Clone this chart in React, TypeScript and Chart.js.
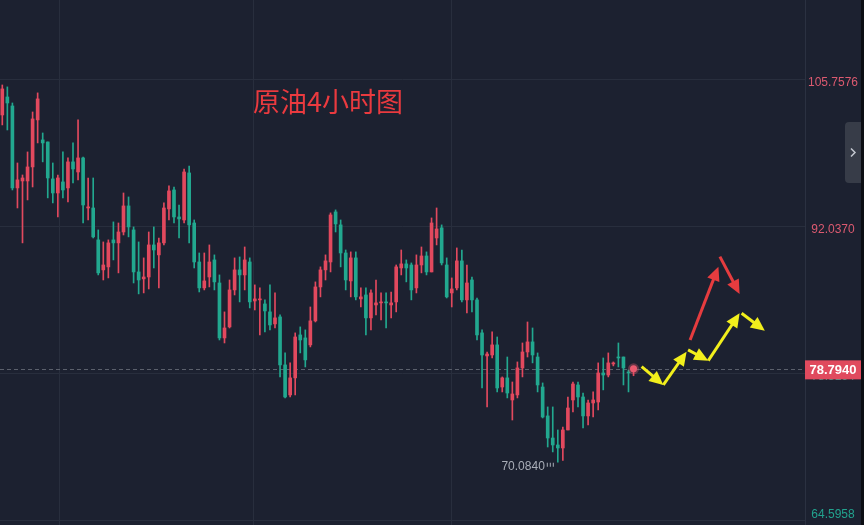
import React, { useEffect, useRef } from 'react';
import { Chart, registerables } from 'chart.js';

Chart.register(...registerables);

// ---------- data (4H crude oil candles) ----------
const opens = [
  102.49, 104.17, 103.33, 95.68, 96.33, 96.33, 97.64, 102.03, 100.16, 99.97,
  96.52, 95.21, 96.24, 95.68, 98.11, 97.17, 98.48, 93.81, 93.81, 90.83,
  88.03, 88.31, 90.83, 90.55, 91.57, 94.0, 91.76, 87.84, 87.19, 87.37,
  90.36, 89.43, 90.55, 93.72, 95.49, 92.97, 92.69, 97.08, 92.41, 88.77,
  86.35, 87.37, 88.96, 86.81, 81.68, 82.71, 86.16, 88.03, 87.56, 88.77,
  85.13, 85.23, 84.85, 84.11, 82.99, 83.64, 79.16, 76.36, 77.95, 81.96,
  81.68, 81.03, 83.27, 86.44, 88.03, 88.77, 93.44, 92.23, 89.61, 87.0,
  89.15, 85.32, 85.69, 83.55, 84.76, 84.95, 85.04, 84.76, 85.04, 88.21,
  88.59, 88.49, 86.35, 88.49, 89.33, 87.84, 91.01, 91.95, 88.49, 85.88,
  86.35, 88.87, 85.23, 87.09, 85.23, 82.15, 80.0, 80.09, 81.03, 77.1,
  77.95, 75.89, 76.36, 78.88, 80.37, 81.31, 79.9, 77.1, 74.4, 72.34,
  71.69, 71.41, 73.09, 75.89, 77.29, 76.17, 74.4, 75.61, 75.7, 78.41,
  78.22, 79.25, 79.9, 79.9, 78.5, 78.6,
];
const highs = [
  105.29, 105.11, 103.61, 98.01, 96.89, 99.04, 102.77, 104.55, 100.81, 99.97,
  98.01, 96.89, 99.04, 98.48, 99.88, 102.03, 98.57, 96.61, 96.61, 91.76,
  90.64, 90.83, 92.51, 92.41, 95.21, 94.84, 92.04, 90.64, 89.15, 91.57,
  92.04, 91.01, 94.28, 95.87, 95.77, 94.09, 97.45, 97.73, 92.69, 89.61,
  89.61, 90.36, 89.43, 87.56, 84.11, 87.09, 89.15, 89.24, 90.17, 89.15,
  86.63, 86.35, 85.23, 86.63, 85.88, 83.83, 80.28, 79.35, 82.15, 82.71,
  82.43, 84.57, 86.91, 88.31, 89.43, 93.35, 93.63, 92.69, 89.89, 89.71,
  89.71, 86.35, 86.35, 86.16, 87.09, 85.88, 85.88, 85.97, 88.49, 89.89,
  88.96, 88.68, 89.43, 90.17, 89.71, 92.88, 93.81, 92.23, 89.15, 87.28,
  90.08, 89.89, 88.49, 87.37, 85.41, 82.43, 80.37, 82.24, 81.77, 78.04,
  79.9, 77.57, 79.44, 81.21, 83.17, 82.61, 80.28, 77.48, 75.24, 75.24,
  73.09, 73.37, 76.17, 77.57, 77.57, 76.54, 75.89, 76.64, 79.35, 79.81,
  80.28, 79.44, 81.21, 79.9, 78.69, 78.85,
];
const lows = [
  101.56, 101.09, 95.49, 93.81, 90.55, 94.56, 95.77, 99.88, 98.11, 94.75,
  94.28, 92.97, 94.75, 94.37, 96.15, 96.43, 92.41, 92.69, 91.01, 87.56,
  87.09, 87.28, 88.96, 87.75, 91.29, 91.11, 86.81, 85.79, 85.88, 86.25,
  88.21, 86.35, 90.36, 92.69, 92.41, 91.01, 92.41, 90.55, 88.21, 85.97,
  86.16, 86.44, 86.16, 81.49, 81.21, 82.61, 85.69, 85.04, 86.16, 84.48,
  84.29, 81.96, 82.24, 82.43, 82.61, 78.04, 76.08, 76.17, 76.36, 80.28,
  78.97, 80.84, 83.17, 85.51, 87.09, 87.84, 91.57, 88.31, 86.16, 85.51,
  85.23, 84.57, 81.96, 82.43, 83.83, 83.36, 82.61, 83.55, 84.11, 87.56,
  86.91, 85.23, 85.88, 87.75, 87.56, 87.84, 90.36, 88.49, 85.41, 84.57,
  86.16, 85.04, 84.01, 84.11, 81.49, 77.01, 75.24, 79.81, 76.64, 76.64,
  76.08, 74.02, 76.08, 78.04, 79.9, 79.35, 76.64, 74.21, 71.5, 71.04,
  70.084, 70.25, 73.09, 74.77, 75.24, 73.28, 73.56, 74.3, 74.96, 76.83,
  78.04, 79.07, 78.97, 77.29, 76.64, 78.15,
];
const closes = [
  104.92, 103.61, 95.68, 96.43, 96.61, 97.64, 102.12, 103.99, 99.88, 96.61,
  95.21, 96.61, 95.49, 98.11, 97.45, 98.48, 94.09, 93.91, 91.11, 87.75,
  88.49, 90.55, 90.55, 91.57, 94.0, 92.04, 87.84, 87.09, 87.37, 90.36,
  89.89, 90.55, 93.81, 95.4, 92.97, 92.79, 97.17, 92.23, 88.77, 86.35,
  87.0, 88.77, 86.91, 81.68, 82.61, 86.16, 88.03, 87.56, 88.96, 85.04,
  85.32, 85.32, 84.2, 82.89, 83.55, 79.16, 76.17, 77.95, 81.77, 81.49,
  79.63, 83.27, 86.44, 88.03, 88.87, 93.16, 92.32, 89.61, 87.09, 89.15,
  85.51, 85.51, 83.55, 85.88, 84.95, 85.04, 84.95, 84.95, 88.31, 88.59,
  88.21, 86.16, 88.49, 89.33, 87.84, 92.41, 91.85, 88.68, 85.51, 86.25,
  88.87, 85.23, 86.81, 85.23, 81.96, 80.09, 80.18, 81.03, 77.01, 77.95,
  76.54, 76.45, 78.88, 80.37, 81.31, 80.09, 77.29, 74.3, 72.34, 71.69,
  71.41, 73.09, 75.14, 77.38, 76.17, 74.4, 75.61, 75.89, 78.41, 78.22,
  79.35, 79.35, 79.81, 78.88, 78.41, 78.794,
];

const yTickValues = [105.7576, 92.037, 78.3164, 64.5958];
const xGridValues = [11.4, 49.8, 89.0];
const currentPrice = 78.794;
const lowestIndex = 110;
const lowestLabel = '70.0840';
const titleText = '原油4小时图';

// annotation arrows [x0, y0, x1, y1] in (candle index, price)
const yellowArrows = [
  [126.6, 79.0, 130.9, 77.29],
  [130.9, 77.29, 135.5, 80.4],
  [135.8, 80.56, 139.8, 79.56],
  [139.8, 79.56, 146.0, 83.98],
  [146.4, 83.98, 151.0, 82.36],
];
const redArrows = [
  [136.2, 81.49, 141.8, 88.33],
  [142.1, 89.27, 146.0, 85.79],
];

// ---------- styles ----------
const BG = '#1c2130';
const GRID = '#282e3d';
const UP = '#e2495e';
const DOWN = '#22a88f';
const LABEL_UP = '#dc5a70';
const LABEL_DOWN = '#22a38e';
const AXIS_W = 59;

function drawArrow(ctx: CanvasRenderingContext2D, x0: number, y0: number, x1: number, y1: number, color: string) {
  const dx = x1 - x0;
  const dy = y1 - y0;
  const len = Math.hypot(dx, dy);
  const ux = dx / len;
  const uy = dy / len;
  const head = 14;
  const hw = 6.5;
  const bx = x1 - ux * head;
  const by = y1 - uy * head;
  ctx.save();
  ctx.strokeStyle = color;
  ctx.fillStyle = color;
  ctx.lineWidth = 3;
  ctx.lineCap = 'butt';
  ctx.beginPath();
  ctx.moveTo(x0, y0);
  ctx.lineTo(bx + ux * 2, by + uy * 2);
  ctx.stroke();
  ctx.beginPath();
  ctx.moveTo(x1, y1);
  ctx.lineTo(bx - uy * hw, by + ux * hw);
  ctx.lineTo(bx + uy * hw, by - ux * hw);
  ctx.closePath();
  ctx.fill();
  ctx.restore();
}

const decoPlugin = {
  id: 'deco',
  beforeDraw(chart: any) {
    const { ctx, width, height } = chart;
    ctx.save();
    ctx.fillStyle = BG;
    ctx.fillRect(0, 0, width, height);
    ctx.restore();
  },
  beforeDatasetsDraw(chart: any) {
    const { ctx, chartArea } = chart;
    const ys = chart.scales.y;
    const y = Math.round(ys.getPixelForValue(currentPrice)) + 0.5;
    ctx.save();
    ctx.strokeStyle = '#5b606c';
    ctx.lineWidth = 1;
    ctx.setLineDash([4, 3]);
    ctx.beginPath();
    ctx.moveTo(chartArea.left, y);
    ctx.lineTo(chartArea.right, y);
    ctx.stroke();
    ctx.restore();
  },
  afterDraw(chart: any) {
    const { ctx, chartArea, width, height } = chart;
    const xs = chart.scales.x;
    const ys = chart.scales.y;
    const axisCenter = chartArea.right + 28;

    // y tick labels
    ctx.save();
    ctx.font = '12px "Liberation Sans", Arial, sans-serif';
    ctx.textAlign = 'center';
    ctx.textBaseline = 'middle';
    yTickValues.forEach((v) => {
      let y = ys.getPixelForValue(v) + 3;
      y = Math.min(y, height - 10);
      ctx.fillStyle = v > currentPrice ? LABEL_UP : LABEL_DOWN;
      ctx.fillText(v.toFixed(4), axisCenter, y);
    });
    ctx.restore();

    // current price box
    const py = ys.getPixelForValue(currentPrice) + 1;
    ctx.save();
    ctx.fillStyle = '#e04a5e';
    ctx.fillRect(chartArea.right, py - 9.5, 56, 19);
    ctx.fillStyle = '#ffffff';
    ctx.font = 'bold 13px "Liberation Sans", Arial, sans-serif';
    ctx.textAlign = 'center';
    ctx.textBaseline = 'middle';
    ctx.fillText(currentPrice.toFixed(4), chartArea.right + 28, py + 0.5);
    ctx.restore();

    // lowest label
    const lx = xs.getPixelForValue(lowestIndex);
    const ly = ys.getPixelForValue(lows[lowestIndex]);
    ctx.save();
    ctx.fillStyle = '#a9aeb8';
    ctx.font = '12px "Liberation Sans", Arial, sans-serif';
    ctx.textAlign = 'right';
    ctx.textBaseline = 'middle';
    ctx.fillText(lowestLabel, lx - 13, ly + 5);
    ctx.strokeStyle = '#a9aeb8';
    ctx.setLineDash([1, 2]);
    ctx.beginPath();
    ctx.moveTo(lx - 11, ly + 2.5);
    ctx.lineTo(lx - 2, ly + 2.5);
    ctx.stroke();
    ctx.restore();

    // title
    ctx.save();
    ctx.fillStyle = '#ea3a3f';
    ctx.font = '27px "Noto Sans CJK SC", sans-serif';
    ctx.textAlign = 'left';
    ctx.textBaseline = 'middle';
    ctx.fillText(titleText, 253, 102);
    ctx.restore();

    // arrows
    const toPx = (a: number[]) => [
      xs.getPixelForValue(a[0]), ys.getPixelForValue(a[1]),
      xs.getPixelForValue(a[2]), ys.getPixelForValue(a[3]),
    ];
    redArrows.forEach((a) => {
      const p = toPx(a);
      drawArrow(ctx, p[0], p[1], p[2], p[3], '#e63c3f');
    });
    yellowArrows.forEach((a) => {
      const p = toPx(a);
      drawArrow(ctx, p[0], p[1], p[2], p[3], '#f2ef1c');
    });

    // side tab + right strip
    ctx.save();
    ctx.fillStyle = '#373c48';
    ctx.beginPath();
    const tx = width - 19;
    const ty = 122;
    const tw = 16;
    const th = 61;
    ctx.moveTo(tx + 4, ty);
    ctx.lineTo(tx + tw, ty);
    ctx.lineTo(tx + tw, ty + th);
    ctx.lineTo(tx + 4, ty + th);
    ctx.quadraticCurveTo(tx, ty + th, tx, ty + th - 4);
    ctx.lineTo(tx, ty + 4);
    ctx.quadraticCurveTo(tx, ty, tx + 4, ty);
    ctx.fill();
    ctx.strokeStyle = '#c4c8d0';
    ctx.lineWidth = 1.5;
    ctx.beginPath();
    ctx.moveTo(tx + 6, ty + th / 2 - 4);
    ctx.lineTo(tx + 10, ty + th / 2);
    ctx.lineTo(tx + 6, ty + th / 2 + 4);
    ctx.stroke();
    ctx.fillStyle = '#0c0e13';
    ctx.fillRect(width - 3, 0, 3, height);
    ctx.restore();
  },
};

const candleColors = closes.map((c, i) => (c >= opens[i] ? UP : DOWN));

export default function App() {
  const ref = useRef<HTMLCanvasElement>(null);

  useEffect(() => {
    document.body.style.margin = '0';
    const canvas = ref.current;
    if (!canvas) return;
    const xMin = -2.3 / 5.05;
    const xMax = xMin + 805 / 5.05;
    const chart = new Chart(canvas, {
      type: 'bar',
      data: {
        datasets: [
          {
            type: 'scatter',
            label: 'live',
            data: [{ x: closes.length - 1, y: currentPrice }],
            backgroundColor: '#ea5b70',
            borderColor: 'rgba(234,91,112,0.35)',
            borderWidth: 4,
            pointRadius: 3.5,
            clip: false,
            order: 0,
          } as any,
          {
            label: 'body',
            data: opens.map((o, i) => ({ x: i, y: [o, closes[i]] })) as any,
            backgroundColor: candleColors,
            barThickness: 3,
            minBarLength: 1,
            grouped: false,
            order: 1,
          },
          {
            label: 'wick',
            data: highs.map((h, i) => ({ x: i, y: [lows[i], h] })) as any,
            backgroundColor: candleColors,
            barThickness: 1,
            grouped: false,
            order: 2,
          },
        ],
      },
      options: {
        animation: false,
        responsive: false,
        maintainAspectRatio: false,
        layout: { padding: 0, autoPadding: false },
        plugins: { legend: { display: false }, tooltip: { enabled: false }, title: { display: false } },
        scales: {
          x: {
            type: 'linear',
            min: xMin,
            max: xMax,
            offset: false,
            ticks: { display: false },
            grid: { color: GRID, drawTicks: false, offset: false },
            border: { display: false },
            afterBuildTicks: (s: any) => {
              s.ticks = xGridValues.map((v) => ({ value: v }));
            },
            afterFit: (s: any) => {
              s.height = 0;
            },
          },
          y: {
            type: 'linear',
            position: 'right',
            min: 64.22,
            max: 113.22,
            ticks: { display: false },
            grid: { color: GRID, drawTicks: false },
            border: { display: true, color: '#2b3141' },
            afterBuildTicks: (s: any) => {
              s.ticks = yTickValues.map((v) => ({ value: v }));
            },
            afterFit: (s: any) => {
              s.width = AXIS_W;
            },
          },
        },
      } as any,
      plugins: [decoPlugin],
    });
    return () => chart.destroy();
  }, []);

  return (
    <div style={{ position: 'fixed', left: 0, top: 0, width: 864, height: 525, background: BG }}>
      <canvas ref={ref} width={864} height={525} style={{ display: 'block', width: 864, height: 525 }} />
    </div>
  );
}
